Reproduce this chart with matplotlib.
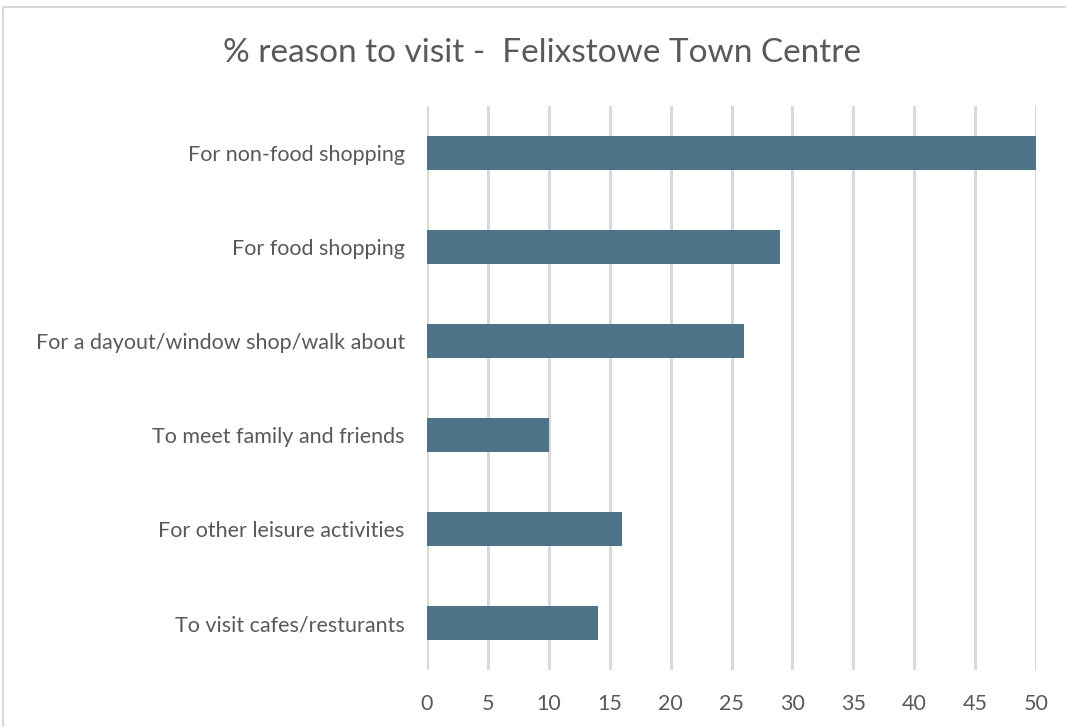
import matplotlib.pyplot as plt
from matplotlib.patches import Rectangle

reasons = ['For non-food shopping', 'For food shopping',
           'For a dayout/window shop/walk about', 'To meet family and friends',
           'For other leisure activities', 'To visit cafes/resturants']
percent = [50, 29, 26, 10, 16, 14]
xticks = [0, 5, 10, 15, 20, 25, 30, 35, 40, 45, 50]

plt.rcParams['font.family'] = ['Lato', 'DejaVu Sans']

fig = plt.figure(figsize=(10.66, 7.27), dpi=100)
ax = fig.add_axes([427/1066, 57/727, 609/1066, 564/727])

# chart border
fig.patches.append(Rectangle((3/1066, -0.05), 1.1, (727 - 7)/727 + 0.05,
                             transform=fig.transFigure, fill=False,
                             edgecolor='#d9d9d9', linewidth=1.5))

ypos = list(range(len(reasons)))
ax.barh(ypos, percent, height=0.36, color='#4e7389', zorder=3)
ax.set_ylim(len(reasons) - 0.5, -0.5)
ax.set_yticks(ypos)
ax.set_yticklabels(reasons)
ax.set_xlim(0, 50)
ax.set_xticks(xticks)

ax.grid(axis='x', color='#d9d9d9', linewidth=2.2, zorder=0)
for s in ax.spines.values():
    s.set_visible(False)
ax.tick_params(length=0, labelsize=15.5, labelcolor='#595959')
ax.tick_params(axis='x', pad=17)
ax.tick_params(axis='y', pad=16)

fig.text(542/1066, 1 - 53/727, '% reason to visit -  Felixstowe Town Centre',
         ha='center', va='center', fontsize=24, color='#595959')

fig.savefig('out.png', dpi=100)
